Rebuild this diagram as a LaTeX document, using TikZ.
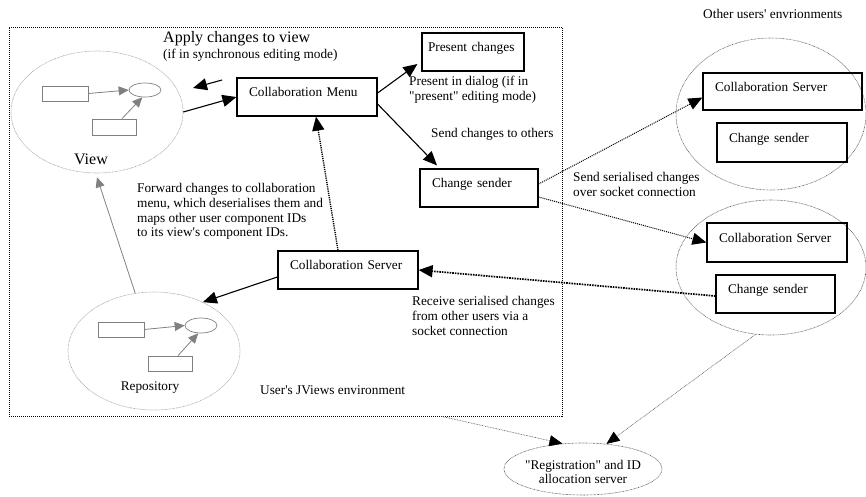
\documentclass[tikz,border=0pt]{standalone}
\usepackage{fontspec}
\setmainfont{Liberation Serif}[Ligatures=TeXOff]
\usetikzlibrary{arrows.meta,shapes.geometric}
\definecolor{sketchgray}{gray}{0.5}
\definecolor{dotgray}{gray}{0.62}
\definecolor{darkdot}{gray}{0.35}
\newcommand\txtsize{\fontsize{13.3}{14.7}\selectfont}
\newcommand\bigsize{\fontsize{16}{19}\selectfont}

\begin{document}
\begin{tikzpicture}[
    x=1pt, y=-1pt,
    box/.style={rectangle, draw, line width=1.2pt, inner xsep=12pt, inner ysep=0pt, align=left, minimum height=38pt, text height=9pt, text depth=10pt, font=\txtsize},
    env/.style={ellipse, draw=dotgray, dash pattern=on 0.7pt off 0.7pt, line width=0.6pt, inner sep=0pt},
    part/.style={rectangle, draw=sketchgray, line width=0.7pt, inner sep=0pt},
    note/.style={inner sep=0pt, align=left, anchor=west, font=\txtsize},
    flow/.style={-{Triangle[length=14pt,width=12pt]}, line width=1.1pt},
    link/.style={flow, line width=1.4pt, dash pattern=on 1.2pt off 1pt},
    send/.style={flow, line width=1pt, dash pattern=on 1pt off 1pt},
    recv/.style={flow, line width=1.7pt, dash pattern=on 1.6pt off 1pt},
    gflow/.style={-{Triangle[length=10pt,width=9pt]}, draw=sketchgray, line width=0.8pt},
    regflow/.style={-{Triangle[length=13pt,width=11pt,color=black]}, draw=darkdot, line width=0.6pt, dash pattern=on 0.8pt off 0.8pt}
]
    \useasboundingbox (0,0) rectangle (866,496);

    % Environments
    \node[rectangle, draw, line width=0.7pt, dash pattern=on 1pt off 1pt, inner sep=0pt, minimum width=553pt, minimum height=389pt] (userenv) at (285.5,221.5) {};
    \node[note] (userlabel) at (260,390) {User's JViews environment};
    \node[note] (otherlabel) at (703,14) {Other users' envrionments};

    \node[env, minimum width=172pt, minimum height=122pt] (view) at (97,112) {};
    \node[note, anchor=center, font=\bigsize] (viewlabel) at (91,159) {View};
    \node[part, minimum width=46pt, minimum height=15pt] (vrecta) at (65,93.5) {};
    \node[part, ellipse, minimum width=32pt, minimum height=14pt] (vdot) at (145,90) {};
    \node[part, minimum width=44pt, minimum height=16pt] (vrectb) at (114,127) {};

    \node[env, minimum width=172pt, minimum height=118pt] (repo) at (154,351) {};
    \node[note, anchor=center] (repolabel) at (150,388) {Repository};
    \node[part, minimum width=46pt, minimum height=15pt] (rrecta) at (121,329.5) {};
    \node[part, ellipse, minimum width=32pt, minimum height=15pt] (rdot) at (201,325.5) {};
    \node[part, minimum width=44pt, minimum height=15pt] (rrectb) at (170,363.5) {};

    \node[env, draw=darkdot, minimum width=190pt, minimum height=152pt] (envone) at (771,114) {};
    \node[env, draw=darkdot, minimum width=190pt, minimum height=135pt] (envtwo) at (771,267.5) {};
    \node[env, draw=darkdot, minimum width=158pt, minimum height=52pt] (reg) at (583,469) {};
    \node[note, align=center, anchor=center] (regtext) at (583,472) {"Registration" and ID\\allocation server};

    % Components
    \node[box, text width=116pt] (menu) at (307,97) {Collaboration Menu};
    \node[box, inner xsep=6pt, text width=90pt] (present) at (473,52) {Present changes};
    \node[box, text width=94pt] (sender) at (479,188) {Change sender};
    \node[box, text width=116pt] (server) at (348,270) {Collaboration Server};
    \node[box, text width=135pt, minimum height=37pt] (serverone) at (782.5,91.5) {Collaboration Server};
    \node[box, text width=106pt, minimum height=39pt] (senderone) at (782,142.5) {Change sender};
    \node[box, text width=116pt, minimum height=39pt] (servertwo) at (777,242.5) {Collaboration Server};
    \node[box, text width=95pt] (sendertwo) at (775.5,294) {Change sender};

    % Labels
    \node[note, font=\bigsize] (applylabel) at (163,39) {Apply changes to view};
    \node[note] (synclabel) at (163,55) {(if in synchronous editing mode)};
    \node[note] (dialoglabel) at (409,89.5) {Present in dialog (if in\\"present" editing mode)};
    \node[note] (sendlabel) at (431,134) {Send changes to others};
    \node[note] (seriallabel) at (573,184.5) {Send serialised changes\\over socket connection};
    \node[note] (forwardlabel) at (137,211.5) {Forward changes to collaboration\\menu, which deserialises them and\\maps other user component IDs\\to its view's component IDs.};
    \node[note] (receivelabel) at (412,316) {Receive serialised changes\\from other users via a\\socket connection};

    % Flow arrows
    \coordinate (applyfrom) at (222,80);
    \coordinate (applyto) at (193,88);
    \draw[flow] (applyfrom) -- (applyto);
    \draw[flow] (view.east) -- (menu.west);
    \draw[flow] ([yshift=4pt]menu.east) -- ([xshift=-4pt,yshift=-12pt]present.west);
    \draw[flow] ([yshift=-7pt]menu.east) -- ([xshift=-42pt,yshift=3pt]sender.north);
    \draw[link] ([xshift=-10pt]server.north) -- ([xshift=9pt]menu.south);
    \draw[flow] ([yshift=-7pt]server.west) -- (repo.45);
    \draw[send] ([yshift=4pt]sender.east) -- ([yshift=-6pt]serverone.west);
    \draw[send] ([yshift=-9pt]sender.east) -- (servertwo.west);
    \draw[recv] ([yshift=-2pt]sendertwo.west) -- (server.east);

    % Inside view and repository
    \draw[gflow] (vrecta.east) -- (vdot.west);
    \draw[gflow] ([xshift=8pt]vrectb.north) -- (vdot.250);
    \draw[gflow] (rrecta.east) -- (rdot.west);
    \draw[gflow] ([xshift=8pt]rrectb.north) -- (rdot.250);
    \draw[gflow] (repo.108) -- ([yshift=-4pt]view.south);

    % Registration
    \draw[regflow] ([xshift=156pt]userenv.south) -- (reg.129);
    \draw[regflow] (envtwo.257) -- (reg.47);
\end{tikzpicture}
\end{document}
